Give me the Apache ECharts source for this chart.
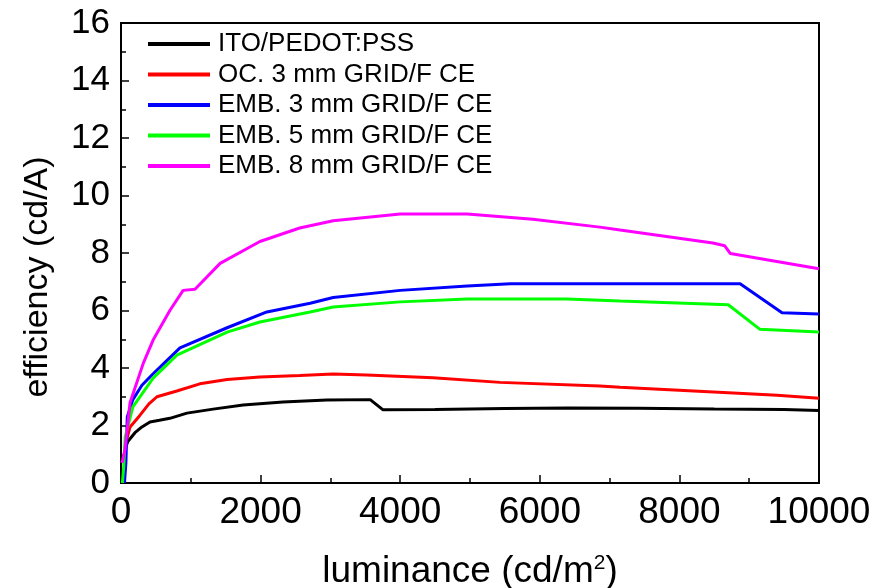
<!DOCTYPE html>
<html>
<head>
<meta charset="utf-8">
<script src="https://cdn.jsdelivr.net/npm/echarts@6/dist/echarts.min.js"></script>
<style>
    html, body { margin: 0; padding: 0; background: #fff; }
    #main { width: 873px; height: 588px; }
</style>
</head>
<body>
<div id="main"></div>
<script>
// 系列名称与颜色
var seriesNames = ['ITO/PEDOT:PSS', 'OC. 3 mm GRID/F CE', 'EMB. 3 mm GRID/F CE', 'EMB. 5 mm GRID/F CE', 'EMB. 8 mm GRID/F CE'];
var colorList = ['#000000', '#ff0000', '#0000ff', '#00ff00', '#ff00ff'];

// [luminance, efficiency]
var itoData = [[60,1.2],[100,1.45],[200,1.75],[300,1.95],[415,2.12],[550,2.18],[700,2.25],[945,2.43],[1320,2.57],
    [1750,2.71],[2320,2.82],[2950,2.89],[3570,2.9],[3750,2.55],[4500,2.56],[5500,2.59],[6400,2.61],[7400,2.6],
    [8500,2.57],[9500,2.56],[10000,2.52]];
var oc3Data = [[40,0.9],[80,1.5],[130,1.95],[270,2.35],[400,2.75],[515,3.0],[800,3.2],[1130,3.45],[1520,3.6],
    [1990,3.69],[2560,3.74],[3040,3.79],[3520,3.76],[4470,3.66],[5430,3.5],[6860,3.37],[7150,3.33],[8770,3.13],
    [9400,3.05],[10000,2.95]];
var emb3Data = [[50,0],[70,0.7],[90,2.3],[170,2.9],[300,3.4],[460,3.8],[845,4.7],[1520,5.4],[2090,5.95],[2710,6.25],
    [3040,6.45],[4000,6.7],[4960,6.85],[5580,6.93],[7150,6.93],[8870,6.93],[9470,5.92],[10000,5.88]];
var emb5Data = [[20,0],[40,0.6],[60,1.6],[170,2.65],[460,3.65],[800,4.45],[1520,5.25],[1990,5.6],[2710,5.95],
    [3040,6.12],[4000,6.3],[4960,6.4],[6390,6.4],[7150,6.33],[8700,6.2],[9150,5.35],[10000,5.25]];
var emb8Data = [[15,0.7],[57,1.15],[130,2.8],[320,4.17],[460,4.97],[700,6.0],[890,6.7],[1060,6.74],[1420,7.64],
    [1990,8.4],[2560,8.87],[3040,9.12],[4000,9.36],[4960,9.36],[5900,9.17],[6860,8.9],[7150,8.8],[8480,8.35],
    [8650,8.25],[8730,7.98],[10000,7.45]];

var allData = [itoData, oc3Data, emb3Data, emb5Data, emb8Data];

var chart = echarts.init(document.getElementById('main'));
var fontName = 'Liberation Sans';

var series = [];
for (var i = 0; i < allData.length; i++) {
    series.push({
        name: seriesNames[i],
        type: 'line',
        data: allData[i],
        showSymbol: false,
        smooth: false,
        lineStyle: { color: colorList[i], width: 3 },
        itemStyle: { color: colorList[i] }
    });
}

var option = {
    animation: false,
    backgroundColor: '#fff',
    textStyle: { fontFamily: fontName },
    grid: {
        left: 121, right: 54, top: 23, bottom: 105,
        outerBoundsMode: 'none',
        show: true, borderColor: '#000', borderWidth: 2
    },
    legend: {
        orient: 'vertical',
        left: 143,
        top: 26,
        icon: 'rect',
        itemWidth: 62,
        itemHeight: 4,
        itemGap: 4.5,
        textStyle: { fontSize: 26, lineHeight: 26, color: '#000', fontFamily: fontName, padding: [0, 0, 0, 3] },
        data: seriesNames
    },
    xAxis: {
        type: 'value',
        min: 0, max: 10000, interval: 2000,
        name: 'luminance (cd/m{s|2})',
        nameLocation: 'middle',
        nameGap: 70,
        nameTextStyle: {
            fontSize: 37, color: '#000', fontFamily: fontName,
            rich: { s: { fontSize: 21, verticalAlign: 'top', padding: [0, 0, 16, 0], color: '#000', fontFamily: fontName } }
        },
        axisLine: { lineStyle: { color: '#000', width: 2 } },
        axisTick: { inside: true, length: 8, lineStyle: { color: '#000', width: 1.5 } },
        minorTick: { show: true, splitNumber: 2, length: 5, lineStyle: { color: '#000', width: 1.5 } },
        axisLabel: { fontSize: 37, color: '#000', margin: 11, fontFamily: fontName, formatter: function (v) { return String(v); } },
        splitLine: { show: false }
    },
    yAxis: {
        type: 'value',
        min: 0, max: 16, interval: 2,
        name: 'efficiency (cd/A)',
        nameLocation: 'middle',
        nameGap: 66,
        nameTextStyle: { fontSize: 34, color: '#000', fontFamily: fontName, padding: [0, 48, 0, 0] },
        axisLine: { lineStyle: { color: '#000', width: 2 } },
        axisTick: { inside: true, length: 8, lineStyle: { color: '#000', width: 1.5 } },
        minorTick: { show: true, splitNumber: 2, length: 5, lineStyle: { color: '#000', width: 1.5 } },
        axisLabel: { fontSize: 35, color: '#000', margin: 11, fontFamily: fontName },
        splitLine: { show: false }
    },
    series: series
};

chart.setOption(option);
</script>
</body>
</html>
